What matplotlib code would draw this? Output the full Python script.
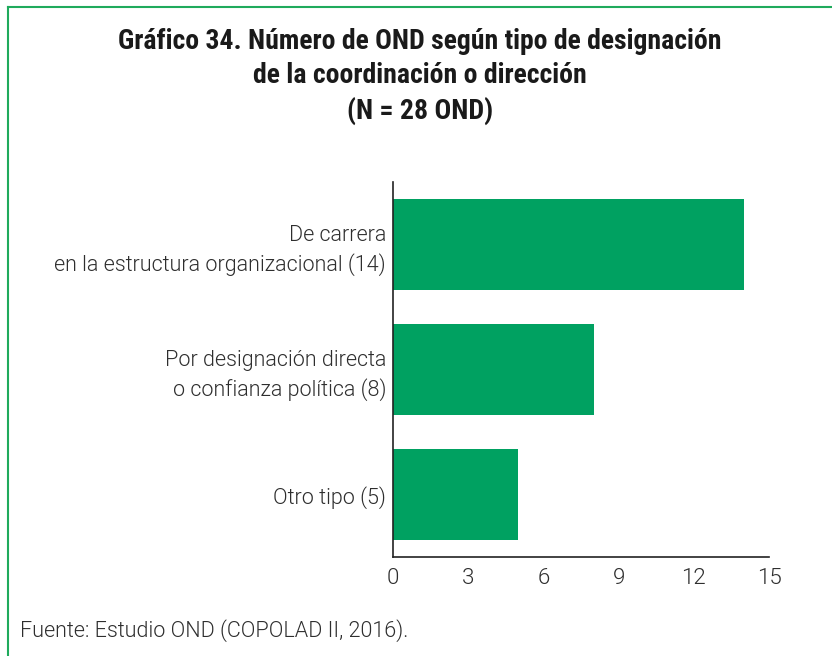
import matplotlib.pyplot as plt
from matplotlib.lines import Line2D

# data
categories = [
    "De carrera\nen la estructura organizacional (14)",
    "Por designación directa\no confianza política (8)",
    "Otro tipo (5)",
]
values = [14, 8, 5]
xticks = [0, 3, 6, 9, 12, 15]

GREEN = "#00a161"
TEXT = "#2e2e2e"
BODY_FONT = ["Roboto", "DejaVu Sans"]

fig = plt.figure(figsize=(8.32, 6.56), dpi=100)
ax = fig.add_axes([0.4724, 0.1509, 0.4519, 0.5716])

y = list(range(len(categories)))
ax.barh(y, values, height=0.73, color=GREEN)

ax.set_ylim(len(categories) - 0.5, -0.5)
ax.set_xlim(0, 15)
ax.set_xticks(xticks)
ax.set_xticklabels([str(t) for t in xticks])
ax.set_yticks(y)
ax.set_yticklabels(categories, ha="right", linespacing=1.4)

ax.tick_params(axis="x", length=0, labelsize=16, colors=TEXT, pad=8)
ax.tick_params(axis="y", length=0, labelsize=15.5, colors=TEXT, pad=5)
for lbl in ax.get_xticklabels() + ax.get_yticklabels():
    lbl.set_family(BODY_FONT)
    lbl.set_fontweight(300)

for side in ["top", "right"]:
    ax.spines[side].set_visible(False)
for side in ["left", "bottom"]:
    ax.spines[side].set_color("#222222")
    ax.spines[side].set_linewidth(1.2)

# title
fig.text(0.505, 0.958,
         "Gráfico 34. Número de OND según tipo de designación\n"
         "de la coordinación o dirección\n(N = 28 OND)",
         ha="center", va="top", fontsize=20, fontweight="bold",
         color="#1a1a1a", linespacing=1.36,
         family=["Roboto Condensed", "DejaVu Sans"])

# source
fig.text(20 / 832, 1 - 631 / 656, "Fuente: Estudio OND (COPOLAD II, 2016).",
         ha="left", va="center", fontsize=15.5, color=TEXT,
         family=BODY_FONT, fontweight=300)

# green frame (top and left edges)
fig.add_artist(Line2D([8 / 832, 1], [1 - 7 / 656, 1 - 7 / 656],
                      color="#1faa5c", lw=1.5, transform=fig.transFigure))
fig.add_artist(Line2D([8 / 832, 8 / 832], [0, 1 - 7 / 656],
                      color="#1faa5c", lw=1.5, transform=fig.transFigure))

fig.savefig("out.png", dpi=100)
